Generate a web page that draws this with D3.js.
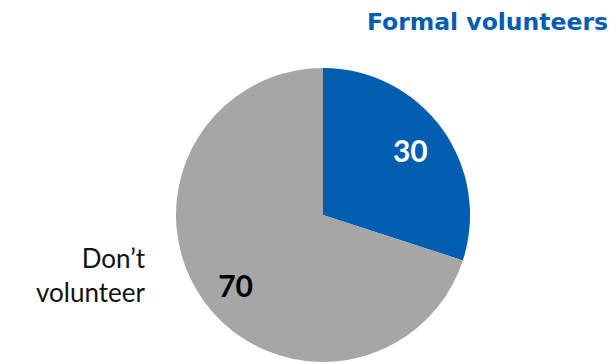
<!DOCTYPE html>
<html>
<head>
<meta charset="utf-8">
<script src="https://cdn.jsdelivr.net/npm/d3@7"></script>
<style>
  body { margin: 0; background: #fff; }
  text { font-family: "Lato", "DejaVu Sans", sans-serif; }
</style>
</head>
<body>
<div id="chart"></div>
<script>
// pie data
var categories = ['Formal volunteers', "Don\u2019t volunteer"];
var values = [30, 70];
var colors = ['#005EB0', '#A6A6A6'];
var labelColors = ['#fff', '#000'];

var width = 615, height = 364;
var cx = 323, cy = 215, radius = 147;

var svg = d3.select('#chart')
  .append('svg')
  .attr('width', width)
  .attr('height', height);

var data = values.map((v, i) => ({'name': categories[i], 'value': v, 'color': colors[i], 'lc': labelColors[i]}));

var pie = d3.pie()
  .value((d) => d.value)
  .sort(null);

var arc = d3.arc().innerRadius(0).outerRadius(radius);
var labelArc = d3.arc().innerRadius(108).outerRadius(108);

var g = svg.append('g')
  .attr('transform', 'translate(' + cx + ',' + cy + ')');

var arcs = pie(data);

g.selectAll('path')
  .data(arcs)
  .enter().append('path')
  .attr('d', arc)
  .attr('fill', (d) => d.data.color);

// value labels, the grey one sits a bit lower
g.selectAll('text.val')
  .data(arcs)
  .enter().append('text')
  .attr('class', 'val')
  .attr('transform', (d, i) => {
    var c = labelArc.centroid(d);
    return 'translate(' + c[0] + ',' + (c[1] + (i ? 8 : 0)) + ')';
  })
  .attr('text-anchor', 'middle')
  .attr('dy', '0.36em')
  .attr('font-size', 30)
  .attr('font-weight', 'bold')
  .attr('fill', (d) => d.data.lc)
  .text((d) => d.data.value);

// category labels
svg.append('text')
  .attr('x', 608)
  .attr('y', 30)
  .attr('text-anchor', 'end')
  .style('font-family', '"DejaVu Sans", sans-serif')
  .attr('font-size', 23.5)
  .attr('font-weight', 'bold')
  .attr('fill', colors[0])
  .text(categories[0]);

var dont = svg.append('text')
  .attr('text-anchor', 'end')
  .attr('font-size', 26)
  .attr('fill', '#111');
dont.append('tspan').attr('x', 145).attr('y', 268).text('Don\u2019t');
dont.append('tspan').attr('x', 145).attr('y', 302).text('volunteer');
</script>
</body>
</html>
